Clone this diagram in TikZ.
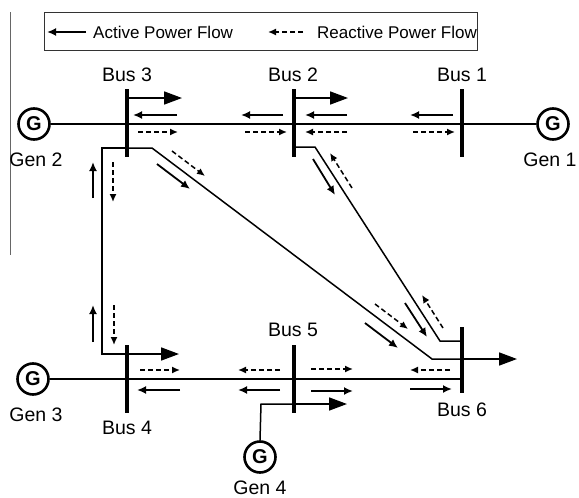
\documentclass[tikz,border=0pt]{standalone}
\usepackage{fontspec}
\setmainfont{Liberation Sans}
\usetikzlibrary{arrows.meta}
\begin{document}
\begin{tikzpicture}[x=1pt,y=-1pt,
 line/.style={line width=1.5pt},
 busbar/.style={line width=3.2pt},
 gen/.style={circle,draw,line width=2.6pt,minimum size=31pt,inner sep=0pt,font=\fontsize{20}{20}\selectfont\bfseries},
 lbl/.style={font=\fontsize{19.5}{20}\selectfont,inner sep=0pt},
 leg/.style={font=\fontsize{17}{18}\selectfont,inner sep=0pt,anchor=west},
 act/.style={line width=1.8pt,-{Latex[length=9pt,width=8pt]}},
 react/.style={line width=1.5pt,dash pattern=on 5pt off 3pt,-{Latex[length=8pt,width=7pt]}},
 big/.style={line width=1.7pt,-{Triangle[length=18pt,width=13pt]}}]
\useasboundingbox (0,0) rectangle (579,498);
% stray left line
\draw[black!60,line width=0.9pt] (10,12) -- (10,255);
% legend
\draw[line width=1pt,black!80] (44,12) rectangle (477,50);
\draw[act] (86,32) -- (47,32);
\node[leg] (la) at (93,32) {Active Power Flow};
\draw[react] (303,32) -- (268,32);
\node[leg] (lr) at (317,32) {Reactive Power Flow};
% generators
\node[gen] (g2) at (34,124) {G};
\node[gen] (g1) at (553,124) {G};
\node[gen] (g3) at (33,379) {G};
\node[gen] (g4) at (260,457) {G};
% bus coordinates
\coordinate (b3t) at (127,89); \coordinate (b3b) at (127,157);
\coordinate (b2t) at (294,89); \coordinate (b2b) at (294,157);
\coordinate (b1t) at (462,89); \coordinate (b1b) at (462,157);
\coordinate (b4t) at (127,345); \coordinate (b4b) at (127,413);
\coordinate (b5t) at (294,345); \coordinate (b5b) at (294,413);
\coordinate (b6t) at (462,327); \coordinate (b6b) at (462,393);
% main lines
\draw[line] (g2) -- (g1);
\draw[line] (g3) -- (462,379);
% branches
\coordinate (c3a) at (127,148); \coordinate (c3l) at (102,148); \coordinate (c3r) at (152,148);
\coordinate (c4l) at (102,354); \coordinate (c4) at (127,354);
\coordinate (c6a) at (432,359); \coordinate (c6) at (462,359);
\coordinate (c2a) at (294,147); \coordinate (c2r) at (315,147);
\coordinate (c6b) at (440,341); \coordinate (c6c) at (462,341);
\coordinate (c5l) at (261,404); \coordinate (c5) at (294,404);
\draw[line] (c3a) -- (c3l) -- (c4l) -- (c4);
\draw[line] (c3a) -- (c3r) -- (c6a) -- (c6);
\draw[line] (c2a) -- (c2r) -- (c6b) -- (c6c);
\draw[line] (g4.north) -- (c5l) -- (c5);
% big arrows
\draw[big] (127,98) -- (182,98);
\draw[big] (294,98) -- (348,98);
\draw[big] (c4) -- (179,354);
\draw[big] (c6) -- (517,359);
\draw[big] (c5) -- (347,404);
% bus bars
\foreach \a/\b in {b3t/b3b,b2t/b2b,b1t/b1b,b4t/b4b,b5t/b5b,b6t/b6b}
  \draw[busbar] (\a) -- (\b);
% top flows
\draw[act] (177,115) -- (133,115);
\draw[react] (138,132) -- (178,132);
\draw[act] (283,115) -- (241,115);
\draw[react] (245,132) -- (287,132);
\draw[act] (347,115) -- (305,115);
\draw[react] (347,132) -- (305,132);
\draw[act] (453,115) -- (410,115);
\draw[react] (413,132) -- (455,132);
% diagonal flows
\draw[act] (157,164) -- (190,189);
\draw[react] (172,151) -- (205,176);
\draw[act] (365,323) -- (398,348);
\draw[react] (375,304) -- (408,329);
\draw[act] (313,159) -- (335,195);
\draw[react] (352,188) -- (330,153);
\draw[act] (405,303) -- (427,337);
\draw[react] (443,328) -- (422,295);
% vertical flows
\draw[act] (93,198) -- (93,162);
\draw[react] (113,162) -- (113,202);
\draw[act] (93,342) -- (93,305);
\draw[react] (114,305) -- (114,345);
% bottom flows
\draw[react] (140,370) -- (180,370);
\draw[act] (180,390) -- (137,390);
\draw[react] (280,370) -- (238,370);
\draw[act] (280,390) -- (238,390);
\draw[react] (311,369) -- (353,369);
\draw[act] (311,391) -- (353,391);
\draw[react] (450,370) -- (410,370);
\draw[act] (410,389) -- (452,389);
% labels
\node[lbl] (l3) at (127,75) {Bus 3};
\node[lbl] (l2) at (293,75) {Bus 2};
\node[lbl] (l1) at (462,75) {Bus 1};
\node[lbl] (lg2) at (36,160) {Gen 2};
\node[lbl] (lg1) at (550,160) {Gen 1};
\node[lbl] (lg3) at (36,415) {Gen 3};
\node[lbl] (l4) at (127,428) {Bus 4};
\node[lbl] (l5) at (293,330) {Bus 5};
\node[lbl] (l6) at (462,410) {Bus 6};
\node[lbl] (lg4) at (260,488) {Gen 4};
\end{tikzpicture}
\end{document}
